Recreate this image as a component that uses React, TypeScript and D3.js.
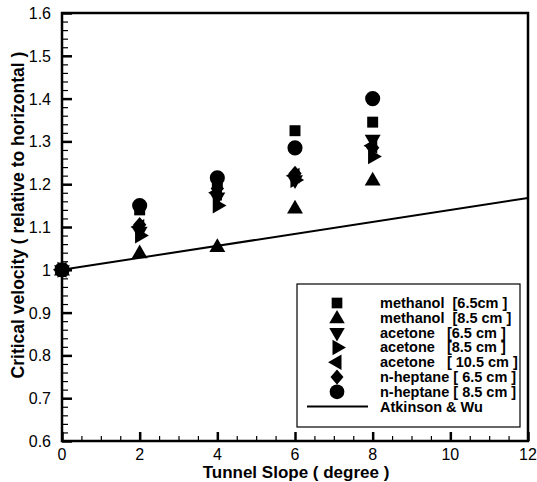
import React, { useEffect, useRef } from 'react';
import * as d3 from 'd3';

// tunnel slope (degree) where the tests were done
const slopes = [0, 2, 4, 6, 8];

// critical velocity relative to horizontal, one list per fuel / pan size
const methanol65 = [1.0, 1.14, 1.2, 1.325, 1.345];
const methanol85 = [1.0, 1.04, 1.055, 1.145, 1.21];
const acetone65 = [1.0, 1.09, 1.17, 1.21, 1.305];
const acetone85 = [1.0, 1.08, 1.15, 1.21, 1.265];
const acetone105 = [1.0, 1.1, 1.18, 1.22, 1.29];
const heptane65 = [1.0, 1.105, 1.19, 1.225, 1.285];
const heptane85 = [1.0, 1.15, 1.215, 1.285, 1.4];

// Atkinson & Wu correlation
const atkinsonX = [0, 12];
const atkinsonY = [1.0, 1.168];

const xTicks = [0, 2, 4, 6, 8, 10, 12];
const yTicks = [0.6, 0.7, 0.8, 0.9, 1.0, 1.1, 1.2, 1.3, 1.4, 1.5, 1.6];

const seriesLabels = [
    'methanol  [6.5cm ]',
    'methanol  [8.5 cm ]',
    'acetone   [6.5 cm ]',
    'acetone   [8.5 cm ]',
    'acetone   [ 10.5 cm ]',
    'n-heptane [ 6.5 cm ]',
    'n-heptane [ 8.5 cm ]',
];
const lineLabel = 'Atkinson & Wu';

const W = 537;
const H = 482;
const margin = { top: 13, right: 9, bottom: 41, left: 62 };

const triangle = (rot: number) => ({
    draw(ctx: any, size: number) {
        const r = Math.sqrt(size) * 0.75;
        const pts = [0, 1, 2].map(i => {
            const a = rot + (i * 2 * Math.PI) / 3 - Math.PI / 2;
            return [r * Math.cos(a), r * Math.sin(a) + (rot === 0 ? r * 0.12 : 0)];
        });
        ctx.moveTo(pts[0][0], pts[0][1]);
        ctx.lineTo(pts[1][0], pts[1][1]);
        ctx.lineTo(pts[2][0], pts[2][1]);
        ctx.closePath();
    },
});

const diamond = {
    draw(ctx: any, size: number) {
        const h = Math.sqrt(size) * 0.6;
        const w = h * 0.85;
        ctx.moveTo(0, -h);
        ctx.lineTo(w, 0);
        ctx.lineTo(0, h);
        ctx.lineTo(-w, 0);
        ctx.closePath();
    },
};

const Chart = () => {
    const svgRef = useRef<SVGSVGElement>(null);

    useEffect(() => {
        const svg = d3.select(svgRef.current);
        svg.selectAll('*').remove();

        const x = d3.scaleLinear().domain([0, 12]).range([margin.left, W - margin.right]);
        const y = d3.scaleLinear().domain([0.6, 1.6]).range([H - margin.bottom, margin.top]);

        const series = [
            { values: methanol65, type: d3.symbolSquare, size: 120 },
            { values: methanol85, type: triangle(0), size: 150 },
            { values: acetone65, type: triangle(Math.PI), size: 150 },
            { values: acetone85, type: triangle(Math.PI / 2), size: 150 },
            { values: acetone105, type: triangle(-Math.PI / 2), size: 150 },
            { values: heptane65, type: diamond, size: 170 },
            { values: heptane85, type: d3.symbolCircle, size: 180 },
        ];

        const font = 'Liberation Sans, Arial, sans-serif';

        // line
        const line = d3.line<number>().x((d, i) => x(atkinsonX[i])).y(d => y(d));
        svg.append('path')
            .attr('d', line(atkinsonY))
            .attr('fill', 'none')
            .attr('stroke', '#000')
            .attr('stroke-width', 2);

        // markers
        series.forEach(s => {
            const sym = d3.symbol().type(s.type as any).size(s.size);
            svg.append('g')
                .selectAll('path')
                .data(s.values)
                .enter()
                .append('path')
                .attr('transform', (d, i) => `translate(${x(slopes[i])},${y(d)})`)
                .attr('d', sym() as string)
                .attr('fill', '#000');
        });

        // axes with inward ticks
        const xAxis = d3.axisTop(x).tickValues(d3.range(0, 12.01, 0.5)).tickSize(5).tickFormat(() => '');
        const gx = svg.append('g').attr('transform', `translate(0,${y(0.6)})`).call(xAxis);
        gx.selectAll('line').attr('stroke-width', 1.2);
        gx.selectAll('.tick line')
            .filter((d: any) => Math.abs(d % 2) < 1e-6)
            .attr('y2', -9).attr('stroke-width', 2.5);
        gx.select('.domain').remove();

        const yAxis = d3.axisRight(y).tickValues(d3.range(0.6, 1.6001, 0.02)).tickSize(6).tickFormat(() => '');
        const gy = svg.append('g').attr('transform', `translate(${x(0)},0)`).call(yAxis);
        gy.selectAll('line').attr('stroke-width', 1.2);
        gy.selectAll('.tick line')
            .filter((d: any) => Math.abs(Math.round(d * 10) - d * 10) < 1e-6)
            .attr('x2', 10).attr('stroke-width', 2.5);
        gy.select('.domain').remove();

        // frame
        svg.append('rect')
            .attr('x', x(0)).attr('y', y(1.6))
            .attr('width', x(12) - x(0)).attr('height', y(0.6) - y(1.6))
            .attr('fill', 'none').attr('stroke', '#000').attr('stroke-width', 2.5);

        // tick labels
        svg.append('g').selectAll('text').data(xTicks).enter().append('text')
            .attr('x', d => x(d)).attr('y', y(0.6) + 19)
            .attr('text-anchor', 'middle')
            .attr('font-family', font).attr('font-size', 16)
            .text(d => String(d));
        svg.append('g').selectAll('text').data(yTicks).enter().append('text')
            .attr('x', x(0) - 11).attr('y', d => y(d) + 6)
            .attr('text-anchor', 'end')
            .attr('font-family', font).attr('font-size', 16)
            .text(d => d3.format('~g')(d));

        // titles
        svg.append('text')
            .attr('x', 296).attr('y', 478)
            .attr('text-anchor', 'middle')
            .attr('font-family', font).attr('font-size', 17).attr('font-weight', 'bold')
            .text('Tunnel Slope ( degree )');
        svg.append('text')
            .attr('transform', `translate(24,215) rotate(-90)`)
            .attr('text-anchor', 'middle')
            .attr('font-family', font).attr('font-size', 17.5).attr('font-weight', 'bold')
            .text('Critical velocity ( relative to horizontal )');

        // legend
        const lg = svg.append('g');
        lg.append('rect')
            .attr('x', 297).attr('y', 284).attr('width', 223).attr('height', 143)
            .attr('fill', '#fff').attr('stroke', '#000').attr('stroke-width', 1.2);
        const rowY = (i: number) => 303 + i * 14.8;
        series.forEach((s, i) => {
            const sym = d3.symbol().type(s.type as any).size(s.size * 0.95);
            lg.append('path')
                .attr('transform', `translate(337,${rowY(i)})`)
                .attr('d', sym() as string)
                .attr('fill', '#000');
            lg.append('text')
                .attr('x', 380).attr('y', rowY(i) + 5)
                .attr('font-family', font).attr('font-size', 14.5).attr('font-weight', 'bold')
                .style('white-space', 'pre')
                .text(seriesLabels[i]);
        });
        lg.append('line')
            .attr('x1', 307).attr('x2', 368)
            .attr('y1', rowY(7)).attr('y2', rowY(7))
            .attr('stroke', '#000').attr('stroke-width', 2);
        lg.append('text')
            .attr('x', 380).attr('y', rowY(7) + 5)
            .attr('font-family', font).attr('font-size', 14.5).attr('font-weight', 'bold')
            .text(lineLabel);
    }, []);

    return <svg ref={svgRef} width={W} height={H} style={{ position: 'absolute', left: 0, top: 0 }}></svg>;
};

export default function App() {
    return <Chart />;
}
